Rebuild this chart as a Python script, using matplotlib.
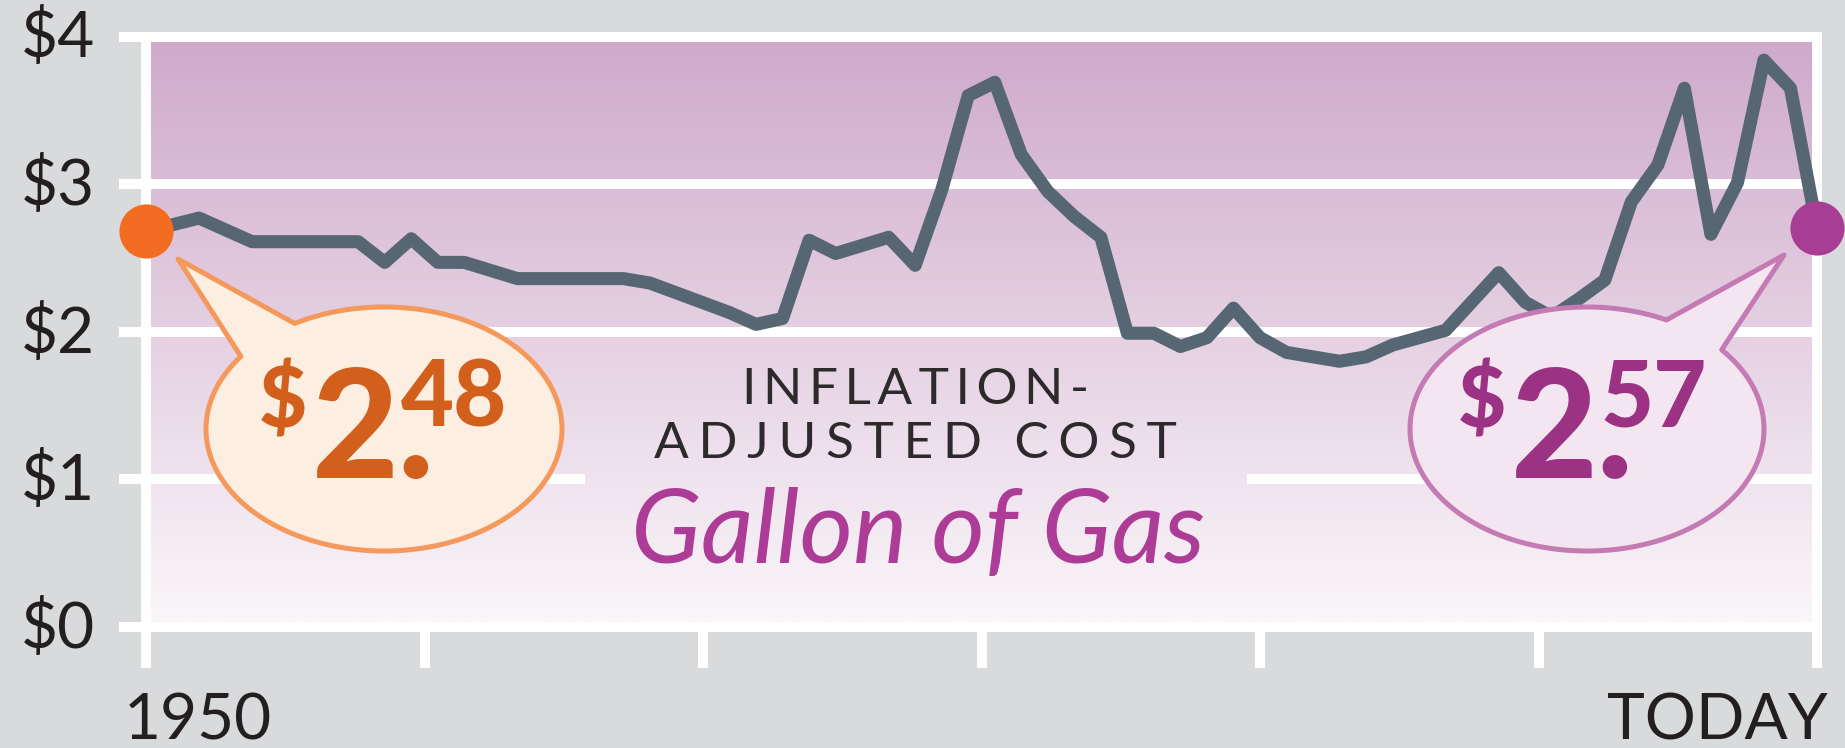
import numpy as np
import matplotlib
matplotlib.use("Agg")
import matplotlib.pyplot as plt
from matplotlib.transforms import Affine2D
from matplotlib.patches import Polygon
from matplotlib.colors import LinearSegmentedColormap

# ---------------- data ----------------
years = [1950, 1952, 1954, 1958, 1959, 1960, 1961, 1962, 1964, 1968,
         1969, 1972, 1973, 1974, 1975, 1976, 1978, 1979, 1980, 1981,
         1982, 1983, 1984, 1985, 1986, 1987, 1988, 1989, 1990, 1991,
         1992, 1993, 1994, 1995, 1996, 1997, 1999, 2001, 2002, 2003,
         2004, 2005, 2006, 2007, 2008, 2009, 2010, 2011, 2012, 2013]
prices = [2.68, 2.77, 2.61, 2.61, 2.47, 2.63, 2.47, 2.47, 2.36, 2.36,
          2.33, 2.13, 2.05, 2.09, 2.62, 2.53, 2.64, 2.45, 2.96, 3.60,
          3.69, 3.20, 2.95, 2.78, 2.64, 1.99, 1.99, 1.90, 1.96, 2.16,
          1.96, 1.86, 1.83, 1.80, 1.83, 1.91, 2.01, 2.40, 2.20, 2.10,
          2.22, 2.35, 2.88, 3.13, 3.65, 2.66, 3.01, 3.84, 3.65, 2.70]
y_ticks = [0, 1, 2, 3, 4]
y_tick_labels = ["$0", "$1", "$2", "$3", "$4"]
x_start, x_end = 1950, 2013
n_x_ticks = 7
x_first_label = "1950"
x_last_label = "TODAY"
start_label = ["$", "2.", "48"]
end_label = ["$", "2.", "57"]
title_lines = ["INFLATION-", "ADJUSTED COST"]
subtitle = "Gallon of Gas"

# ---------------- colours ----------------
BG = "#d9dadc"
GRAD_TOP = "#cfaacb"
GRAD_BOT = "#faf6f9"
LINE = "#566773"
TXT = "#231f20"
ORANGE_DOT = "#f26d22"
ORANGE_TXT = "#d35f1c"
ORANGE_FILL = "#fdeee2"
ORANGE_EDGE = "#f5985c"
PURPLE_DOT = "#a83d95"
PURPLE_TXT = "#9b3283"
PURPLE_FILL = "#f3e6f0"
PURPLE_EDGE = "#c47ab2"
MAGENTA = "#ad3c96"
FONT = ["Lato", "DejaVu Sans"]

W, H = 1845, 748
fig = plt.figure(figsize=(W / 100, H / 100), dpi=100, facecolor=BG)
L, R, T, B = 146, 1817, 36.5, 627
ax = fig.add_axes([L / W, 1 - B / H, (R - L) / W, (B - T) / H])
ax.set_axis_off()

pix = Affine2D().scale(1 / W, -1 / H).translate(0, 1) + fig.transFigure


def dx(px):
    return x_start + (px - L) / (R - L) * (x_end - x_start)


def dy(py):
    return (B - py) / (B - T) * 4


# gradient background
grad = np.linspace(0, 1, 256).reshape(-1, 1)
cmap = LinearSegmentedColormap.from_list("g", [GRAD_BOT, GRAD_TOP])
ax.imshow(grad, cmap=cmap, aspect="auto", origin="lower",
          extent=[dx(151), dx(1812), dy(622), dy(41)], zorder=0,
          interpolation="bilinear")
ax.set_xlim(x_start, x_end)
ax.set_ylim(0, 4)

GW = 7.2
for v in y_ticks:
    if v in (0, 4):
        segs = [(dx(119), dx(1822))]
    elif v == 1:
        segs = [(dx(119), dx(585)), (dx(1247), dx(1812))]
    else:
        segs = [(dx(119), dx(1812))]
    for a, b in segs:
        ax.plot([a, b], [v, v], color="white", lw=GW, solid_capstyle="butt",
                clip_on=False, zorder=2)

xt = np.linspace(x_start, x_end, n_x_ticks)
for i, x in enumerate(xt):
    top = dy(32) if i in (0, n_x_ticks - 1) else 0
    ax.plot([x, x], [top, dy(668)], color="white", lw=GW,
            solid_capstyle="butt", clip_on=False, zorder=2)

# data line
ax.plot(years, prices, color=LINE, lw=9.4, solid_joinstyle="round",
        solid_capstyle="round", zorder=3, clip_on=False)
ax.plot(years[0], prices[0], "o", ms=39, color=ORANGE_DOT, mec="none",
        zorder=6, clip_on=False)
ax.plot(years[-1], prices[-1], "o", ms=39, color=PURPLE_DOT, mec="none",
        zorder=6, clip_on=False)


# bubbles
def bubble(cx, cy, a, b, tip, pa, pb, fc, ec):
    ta = np.arctan2((pa[1] - cy) / b, (pa[0] - cx) / a)
    tb = np.arctan2((pb[1] - cy) / b, (pb[0] - cx) / a)
    lo, hi = min(ta, tb), max(ta, tb)
    th = np.linspace(hi, lo + 2 * np.pi, 300)
    pts = np.column_stack([cx + a * np.cos(th), cy + b * np.sin(th)])
    pts = np.vstack([pts, tip])
    poly = Polygon(pts, closed=True, transform=pix, facecolor=fc,
                   edgecolor=ec, lw=3.6, joinstyle="round", zorder=4)
    fig.add_artist(poly)


bubble(384, 429, 178, 122, (178, 259), (296, 325), (244, 358),
       ORANGE_FILL, ORANGE_EDGE)
bubble(1587, 429, 177, 122, (1784, 255), (1665, 322), (1718, 352),
       PURPLE_FILL, PURPLE_EDGE)


def price_text(x0, parts, color):
    d, big, cents = parts
    kw = dict(transform=pix, ha="left", va="baseline", color=color,
              family=FONT, weight="black", zorder=5)
    fig.text(x0 - 3, 428, d, fontsize=60, **kw)
    fig.text(x0 + 50, 478, big, fontsize=108, **kw)
    fig.text(x0 + 139, 427, cents, fontsize=66, **kw)


price_text(262, start_label, ORANGE_TXT)
price_text(1461, end_label, PURPLE_TXT)

# axis labels
off = Affine2D().translate(0, -21)
for v, lab in zip(y_ticks, y_tick_labels):
    ax.text(dx(95), v, lab, transform=ax.transData + off, ha="right",
            va="baseline", fontsize=46, family=FONT, weight="normal",
            color=TXT, clip_on=False)
fig.text(124, 740, x_first_label, transform=pix, ha="left", va="baseline",
         fontsize=46, family=FONT, weight="normal", color=TXT)
fig.text(1828, 740, x_last_label, transform=pix, ha="right", va="baseline",
         fontsize=46, family=FONT, weight="normal", color=TXT)

# centre title with letter spacing
fig.canvas.draw()
renderer = fig.canvas.get_renderer()
cands = ["", "\u200a", "\u2009", "\u200a\u200a", "\u2009\u200a",
         "\u2009\u2009", "\u2005", "\u2004"]


def spaced_text(x, y, s, target, **kw):
    best, bestd = None, 1e9
    for c in cands:
        t = fig.text(x, y, c.join(s), transform=pix, **kw)
        w = t.get_window_extent(renderer).width
        t.remove()
        if abs(w - target) < bestd:
            best, bestd = c, abs(w - target)
    return fig.text(x, y, best.join(s), transform=pix, **kw)


tkw = dict(ha="center", va="baseline", fontsize=37, family=FONT,
           color="#2d2a2b", zorder=5)
spaced_text(915, 404, title_lines[0], 356, **tkw)
spaced_text(915, 458, title_lines[1], 508, **tkw)
fig.text(918, 563, subtitle, transform=pix, ha="center", va="baseline",
         fontsize=74, family=FONT, style="italic", color=MAGENTA, zorder=5)

fig.savefig("out.png", dpi=100, facecolor=BG)
